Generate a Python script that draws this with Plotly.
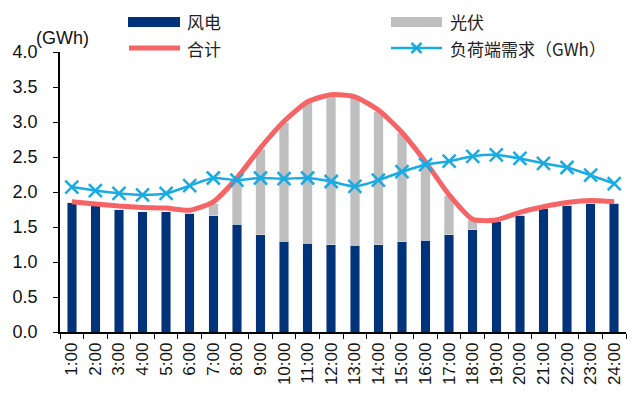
import plotly.graph_objects as go

hours = [f"{h}:00" for h in range(1, 25)]
wind = [1.85, 1.81, 1.75, 1.72, 1.72, 1.70, 1.66, 1.54, 1.39, 1.30, 1.27, 1.25,
        1.24, 1.25, 1.29, 1.31, 1.39, 1.46, 1.58, 1.67, 1.77, 1.81, 1.84, 1.84]
solar = [0.0, 0.0, 0.0, 0.0, 0.0, 0.0, 0.17, 0.64, 1.22, 1.69, 2.01, 2.12,
         2.10, 1.90, 1.55, 1.11, 0.56, 0.14, 0.0, 0.0, 0.0, 0.0, 0.0, 0.0]
total = [1.86, 1.83, 1.80, 1.78, 1.77, 1.74, 1.86, 2.20, 2.63, 3.01, 3.29, 3.39,
         3.36, 3.17, 2.85, 2.43, 1.96, 1.61, 1.60, 1.71, 1.79, 1.85, 1.88, 1.86]
demand = [2.07, 2.02, 1.98, 1.96, 1.98, 2.09, 2.20, 2.17, 2.20, 2.19, 2.20, 2.15,
          2.08, 2.17, 2.29, 2.39, 2.44, 2.51, 2.53, 2.48, 2.41, 2.35, 2.24, 2.12]
yticks = [0.0, 0.5, 1.0, 1.5, 2.0, 2.5, 3.0, 3.5, 4.0]

NAVY = "#00337A"
GRAY = "#BFBFBF"
RED = "#F66466"
BLUE = "#19ABE3"
FONT = "Liberation Sans, Arial, sans-serif"
CJK = "Noto Sans CJK SC, sans-serif"

fig = go.Figure()
fig.add_trace(go.Bar(x=hours, y=wind, name="风电", marker_color=NAVY, showlegend=False))
fig.add_trace(go.Bar(x=hours, y=solar, name="光伏", marker_color=GRAY, showlegend=False))
fig.add_trace(go.Scatter(x=hours, y=total, name="合计", mode="lines",
                         line=dict(color=RED, width=5, shape="spline", smoothing=0.6),
                         showlegend=False))
fig.add_trace(go.Scatter(x=hours, y=demand, name="负荷端需求（GWh）", mode="lines+markers",
                         line=dict(color=BLUE, width=2.5, shape="spline", smoothing=0.6),
                         marker=dict(symbol="x-thin", size=13, line=dict(color=BLUE, width=2.5)),
                         showlegend=False))

# page has an 8px body margin; positions below are page pixels
OFF = 8
W, H = 635 - OFF, 398 - OFF
PL, PR, PT, PB = 60, 626, 52, 332  # plot area in page pixels
L, R, T, B = PL - OFF, W - (PR - OFF), PT - OFF, H - (PB - OFF)

def px(x):
    return (x - PL) / (PR - PL)

def py(y):
    return 1 - (y - PT) / (PB - PT)

shapes = []
annotations = []
legend_font = dict(size=17, color="#222", family=CJK)
# legend: wind
shapes.append(dict(type="rect", xref="paper", yref="paper", x0=px(128), x1=px(180),
                   y0=py(27), y1=py(17), fillcolor=NAVY, line=dict(width=0)))
annotations.append(dict(xref="paper", yref="paper", x=px(185), y=py(22), text="风电",
                        showarrow=False, xanchor="left", yanchor="middle", font=legend_font))
# legend: solar
shapes.append(dict(type="rect", xref="paper", yref="paper", x0=px(391), x1=px(442),
                   y0=py(27), y1=py(17), fillcolor=GRAY, line=dict(width=0)))
annotations.append(dict(xref="paper", yref="paper", x=px(448), y=py(22), text="光伏",
                        showarrow=False, xanchor="left", yanchor="middle", font=legend_font))
# legend: total
shapes.append(dict(type="line", xref="paper", yref="paper", x0=px(129), x1=px(180),
                   y0=py(48), y1=py(48), line=dict(color=RED, width=5)))
annotations.append(dict(xref="paper", yref="paper", x=px(185), y=py(48), text="合计",
                        showarrow=False, xanchor="left", yanchor="middle", font=legend_font))
# legend: demand
shapes.append(dict(type="line", xref="paper", yref="paper", x0=px(391), x1=px(442),
                   y0=py(48), y1=py(48), line=dict(color=BLUE, width=2.5)))
cx, cy, d = 416.5, 48, 5
shapes.append(dict(type="path", xref="paper", yref="paper",
                   path=f"M {px(cx-d)},{py(cy-d)} L {px(cx+d)},{py(cy+d)} M {px(cx-d)},{py(cy+d)} L {px(cx+d)},{py(cy-d)}",
                   line=dict(color=BLUE, width=2.5)))
annotations.append(dict(xref="paper", yref="paper", x=px(448), y=py(48), text="负荷端需求（GWh）",
                        showarrow=False, xanchor="left", yanchor="middle", font=legend_font))
# axis unit
annotations.append(dict(xref="paper", yref="paper", x=px(34), y=py(38), text="(GWh)",
                        showarrow=False, xanchor="left", yanchor="middle",
                        font=dict(size=18, color="#111")))

fig.update_layout(
    width=W, height=H,
    margin=dict(l=L, r=R, t=T, b=B, pad=0, autoexpand=False),
    paper_bgcolor="white", plot_bgcolor="white",
    barmode="stack", bargap=0.6,
    font=dict(family=FONT, size=17, color="#111"),
    shapes=shapes, annotations=annotations,
    xaxis=dict(type="category", range=[-0.5, len(hours) - 0.5], tickangle=-90,
               showline=True, linecolor="black", linewidth=1.5,
               ticks="outside", ticklen=5, tickcolor="black", tickson="boundaries",
               showgrid=False, tickfont=dict(size=17), ticklabelstandoff=2, automargin=False),
    yaxis=dict(range=[0, 4], tickvals=yticks, ticktext=[f"{v:.1f}" for v in yticks],
               showline=True, linecolor="black", linewidth=1.5, ticks="outside", ticklen=5,
               tickcolor="black", showgrid=False, zeroline=False, tickfont=dict(size=18),
               ticklabelstandoff=12, automargin=False),
)

fig.write_html("out.html")
